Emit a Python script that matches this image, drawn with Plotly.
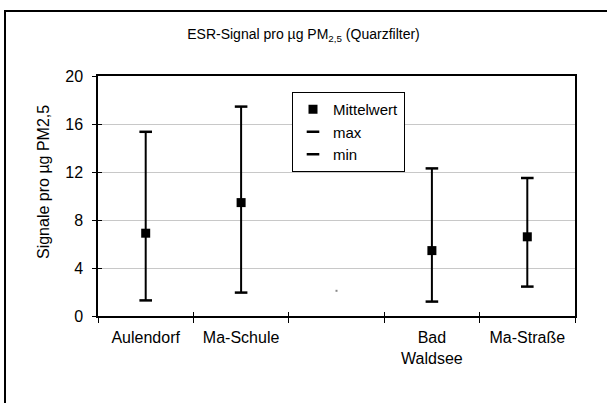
import plotly.graph_objects as go

# ---- data ----
categories = ["Aulendorf", "Ma-Schule", " ", "Bad<br>Waldsee", "Ma-Straße"]
mittelwert = [6.9, 9.45, None, 5.45, 6.6]
max_vals = [15.35, 17.45, None, 12.3, 11.5]
min_vals = [1.3, 1.95, None, 1.2, 2.45]
stray_point = [None, None, 2.1, None, None]
y_ticks = [0, 4, 8, 12, 16, 20]

FONT = "Arial, Liberation Sans, sans-serif"

err_plus = [None if (a is None or m is None) else a - m for a, m in zip(max_vals, mittelwert)]
err_minus = [None if (b is None or m is None) else m - b for b, m in zip(min_vals, mittelwert)]

fig = go.Figure()

fig.add_trace(go.Scatter(
    x=categories, y=mittelwert, mode="markers", name="Mittelwert",
    marker=dict(symbol="square", size=9, color="black"),
    error_y=dict(type="data", symmetric=False, array=err_plus, arrayminus=err_minus,
                 color="black", thickness=2, width=0),
))
fig.add_trace(go.Scatter(
    x=categories, y=max_vals, mode="markers", name="max",
    marker=dict(symbol="line-ew", size=9, color="black", line=dict(color="black", width=2.5)),
))
fig.add_trace(go.Scatter(
    x=categories, y=min_vals, mode="markers", name="min",
    marker=dict(symbol="line-ew", size=9, color="black", line=dict(color="black", width=2.5)),
))
fig.add_trace(go.Scatter(
    x=categories, y=stray_point, mode="markers", showlegend=False, hoverinfo="skip",
    marker=dict(symbol="square", size=2, color="#888888"),
))
# dummy trace for overlay axes (inner halves of the crossing tick marks)
fig.add_trace(go.Scatter(
    x=categories, y=[None] * len(categories), mode="markers", showlegend=False,
    xaxis="x2", yaxis="y2", hoverinfo="skip",
))

fig.update_layout(
    width=607, height=403,
    margin=dict(l=98, r=32, t=76, b=87),
    paper_bgcolor="white", plot_bgcolor="white",
    font=dict(family=FONT, size=16, color="black"),
    title=dict(text="ESR-Signal pro µg PM<sub>2,5</sub> (Quarzfilter)",
               x=0.5, xref="container", xanchor="center",
               y=1 - 34 / 403, yref="container", yanchor="middle",
               font=dict(family=FONT, size=14, color="black")),
    showlegend=True,
    legend=dict(x=(292 - 98) / 477, y=(316 - 92) / 240, xanchor="left", yanchor="top",
                bgcolor="white", bordercolor="black", borderwidth=1,
                font=dict(family=FONT, size=15, color="black"),
                tracegroupgap=0, itemwidth=30),
    xaxis=dict(type="category", categoryorder="array", categoryarray=categories,
               range=[-0.5, 4.5], tickson="boundaries", ticks="outside", ticklen=5,
               tickwidth=1, tickcolor="black", showline=True, linecolor="black",
               linewidth=1.5, mirror=True, showgrid=False, zeroline=False,
               ticklabelstandoff=6, tickfont=dict(family=FONT, size=16)),
    yaxis=dict(range=[0, 20], tickvals=y_ticks, ticks="outside", ticklen=4,
               tickwidth=1, tickcolor="black", showline=True, linecolor="black",
               linewidth=1.5, mirror=True, showgrid=True, gridcolor="#c8c8c8",
               gridwidth=1, zeroline=False, ticklabelstandoff=6,
               tickfont=dict(family=FONT, size=16)),
    xaxis2=dict(type="category", categoryorder="array", categoryarray=categories,
                range=[-0.5, 4.5], overlaying="x", anchor="y2", side="bottom",
                tickson="boundaries", ticks="inside", ticklen=4, tickwidth=1,
                tickcolor="black", showticklabels=False, showline=False,
                showgrid=False, zeroline=False),
    yaxis2=dict(range=[0, 20], tickvals=y_ticks, overlaying="y", anchor="x2",
                side="left", ticks="inside", ticklen=4, tickwidth=1,
                tickcolor="black", showticklabels=False, showline=False,
                showgrid=False, zeroline=False),
    annotations=[dict(text="Signale pro µg PM2,5", textangle=-90,
                      x=(43 - 98) / 477, y=(316 - 182) / 240,
                      xref="paper", yref="paper", showarrow=False,
                      xanchor="center", yanchor="middle",
                      font=dict(family=FONT, size=16, color="black"))],
    shapes=[dict(type="rect", xref="paper", yref="paper",
                 x0=(5 - 98) / 477, x1=(612 - 98) / 477,
                 y0=(316 - 410) / 240, y1=(316 - 11) / 240,
                 line=dict(color="black", width=2), fillcolor="rgba(0,0,0,0)",
                 layer="below")],
)

fig.write_html("out.html")
